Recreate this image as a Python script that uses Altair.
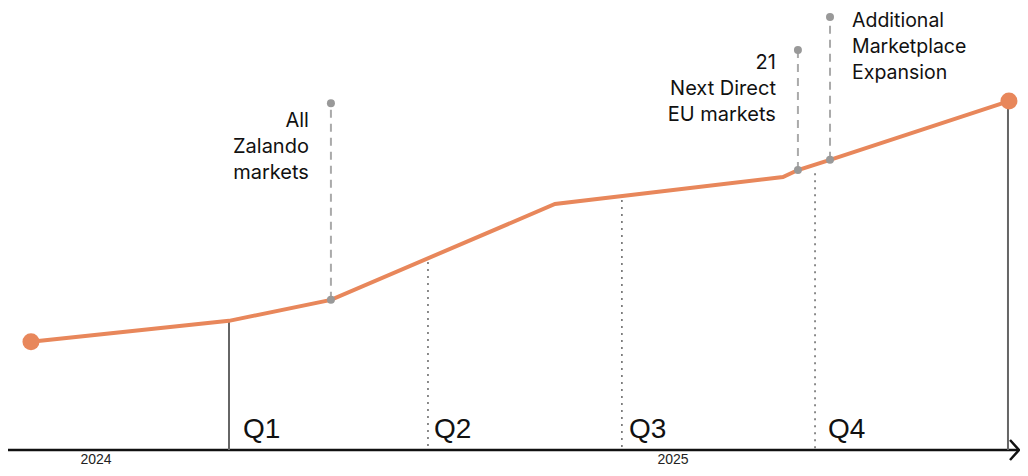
import altair as alt
import pandas as pd

# ---- data (x in quarter units, y in index units) ----
line_x = [-0.018, 1.0, 1.524, 2.676, 3.848, 3.925, 4.090, 5.01]
line_y = [30.9, 36.9, 42.9, 70.3, 78.0, 80.0, 82.9, 99.7]

end_x = [-0.018, 5.01]
end_y = [30.9, 99.7]

solid_x = [1.0, 5.005]
solid_top = [36.9, 99.7]

dotted_x = [2.023, 3.02, 4.013]
dotted_top = [53.7, 71.4, 79.1]

ann_x = [1.524, 3.925, 4.090]
ann_base = [42.9, 80.0, 82.9]
ann_top = [99.1, 114.3, 123.7]
ann_text = ["All\nZalando\nmarkets", "21\nNext Direct\nEU markets",
            "Additional\nMarketplace\nExpansion"]
ann_text_y = [92.3, 108.9, 121.0]
ann_side = ["left", "left", "right"]

q_labels = ["Q1", "Q2", "Q3", "Q4"]
q_label_x = [1.072, 2.054, 3.057, 4.080]
q_label_y = [3.4, 3.4, 3.4, 3.4]

year_labels = ["2024", "2025"]
year_x = [0.316, 3.283]
year_y = [-3.9, -3.9]

axis_start, axis_end = -0.1363, 5.0617

# ---- scales ----
xs = alt.Scale(domain=[-0.13625, 5.0668], nice=False, zero=False)
ys = alt.Scale(domain=[-5.143, 126.286], nice=False, zero=False)


def X(f, **kw):
    return alt.X(f, type="quantitative", scale=xs, axis=None, **kw)


def Y(f, **kw):
    return alt.Y(f, type="quantitative", scale=ys, axis=None, **kw)


ORANGE = "#E8875B"

axis_df = pd.DataFrame({"x": [axis_start], "x2": [axis_end], "y": [0]})
axis_rule = alt.Chart(axis_df).mark_rule(color="#111", strokeWidth=2.5).encode(
    x=X("x"), x2="x2", y=Y("y"))

arrow = alt.Chart(pd.DataFrame({"x": [axis_end], "y": [0]})).mark_point(
    shape="M-0.9,-1L0,0L-0.9,1", size=400, filled=False, color="#111",
    strokeWidth=2.5, opacity=1).encode(x=X("x"), y=Y("y"))

solid_df = pd.DataFrame({"x": solid_x, "top": solid_top, "bot": [0, 0]})
solid = alt.Chart(solid_df).mark_rule(color="#666", strokeWidth=2).encode(
    x=X("x"), y=Y("top"), y2="bot")

dotted_df = pd.DataFrame({"x": dotted_x, "top": dotted_top, "bot": [0] * 3})
dotted = alt.Chart(dotted_df).mark_rule(
    color="#666", strokeWidth=1.5, strokeDash=[2, 5]).encode(
    x=X("x"), y=Y("top"), y2="bot")

ann_df = pd.DataFrame({"x": ann_x, "base": ann_base, "top": ann_top,
                       "text": ann_text, "ty": ann_text_y, "side": ann_side})
dashed = alt.Chart(ann_df).mark_rule(
    color="#aaa", strokeWidth=2, strokeDash=[8, 6]).encode(
    x=X("x"), y=Y("base"), y2="top")

line_df = pd.DataFrame({"x": line_x, "y": line_y, "o": list(range(len(line_x)))})
line = alt.Chart(line_df).mark_line(color=ORANGE, strokeWidth=4).encode(
    x=X("x"), y=Y("y"), order="o")

ends = alt.Chart(pd.DataFrame({"x": end_x, "y": end_y})).mark_circle(
    color=ORANGE, size=290, opacity=1).encode(x=X("x"), y=Y("y"))

dots_df = pd.DataFrame({"x": ann_x * 2, "y": ann_base + ann_top})
dots = alt.Chart(dots_df).mark_circle(color="#999", size=64, opacity=1).encode(
    x=X("x"), y=Y("y"))

txt_left = alt.Chart(ann_df).transform_filter(alt.datum.side == "left").mark_text(
    align="right", baseline="alphabetic", dx=-22, fontSize=20, lineHeight=26,
    font="Inter", color="#111", lineBreak="\n").encode(
    x=X("x"), y=Y("ty"), text="text:N")

txt_right = alt.Chart(ann_df).transform_filter(alt.datum.side == "right").mark_text(
    align="left", baseline="alphabetic", dx=22, fontSize=19.5, lineHeight=26,
    font="Inter", color="#111", lineBreak="\n").encode(
    x=X("x"), y=Y("ty"), text="text:N")

q_df = pd.DataFrame({"x": q_label_x, "y": q_label_y, "t": q_labels})
qtext = alt.Chart(q_df).mark_text(
    align="left", baseline="alphabetic", fontSize=28, font="Liberation Sans",
    color="#111").encode(x=X("x"), y=Y("y"), text="t:N")

yr_df = pd.DataFrame({"x": year_x, "y": year_y, "t": year_labels})
ytext = alt.Chart(yr_df).mark_text(
    align="center", baseline="alphabetic", fontSize=14, font="Liberation Sans",
    color="#222").encode(x=X("x"), y=Y("y"), text="t:N")

chart = alt.layer(
    axis_rule, solid, dotted, dashed, line, ends, dots,
    txt_left, txt_right, qtext, ytext, arrow
).properties(
    width=1012, height=460, autosize=alt.AutoSizeParams(type="none"),
    padding=0, background="white"
).configure_view(strokeWidth=0)

chart.save("out.html", embed_options={"renderer": "svg", "actions": False})
